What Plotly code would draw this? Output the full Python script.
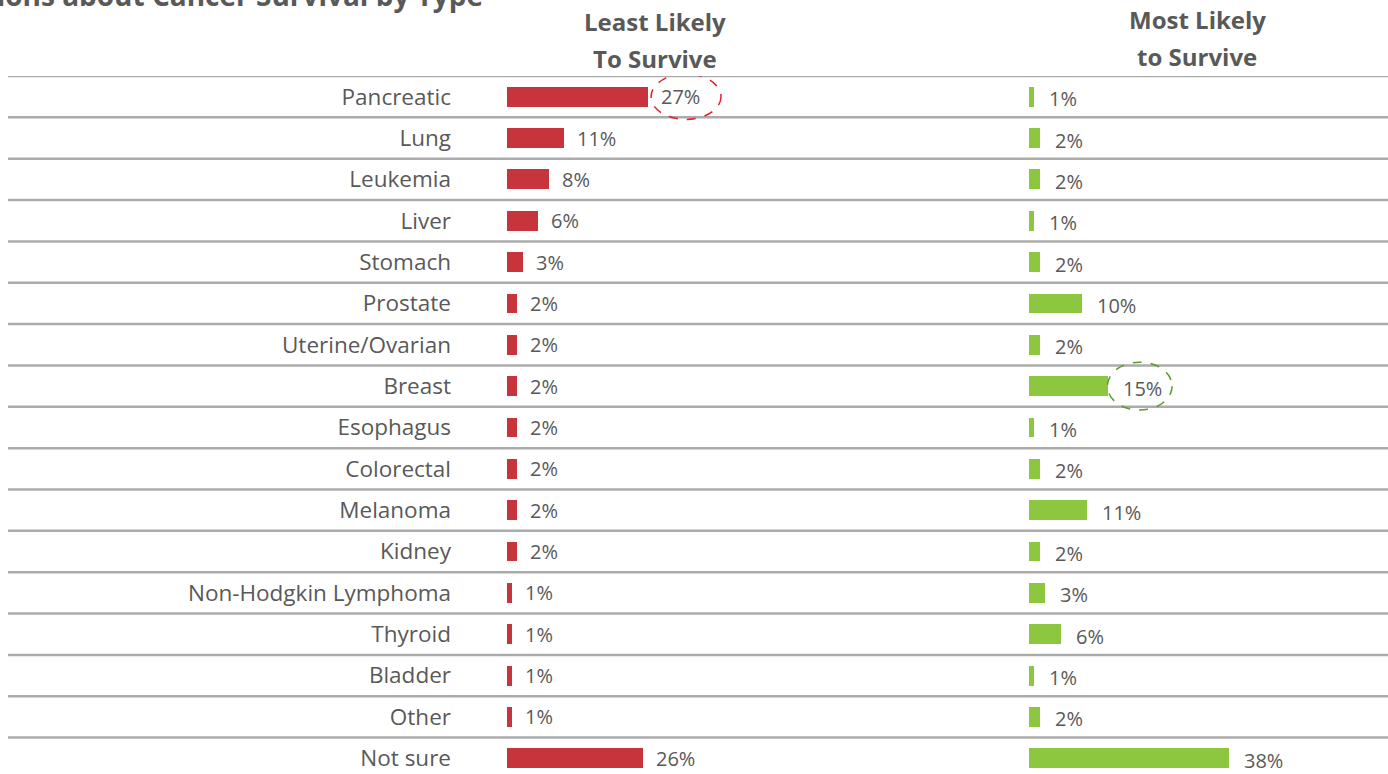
import plotly.graph_objects as go

categories = ["Pancreatic", "Lung", "Leukemia", "Liver", "Stomach", "Prostate",
              "Uterine/Ovarian", "Breast", "Esophagus", "Colorectal", "Melanoma",
              "Kidney", "Non-Hodgkin Lymphoma", "Thyroid", "Bladder", "Other", "Not sure"]
least_likely = [27, 11, 8, 6, 3, 2, 2, 2, 2, 2, 2, 2, 1, 1, 1, 1, 26]
most_likely = [1, 2, 2, 1, 2, 10, 2, 15, 1, 2, 11, 2, 3, 6, 1, 2, 38]
title_text = "Perceptions about Cancer Survival by Type"
highlight_left = "Pancreatic"
highlight_right = "Breast"

RED = "#C8343C"
GREEN = "#8DC63F"
GRAY = "#595959"
LINE = "#ABABAB"
FONT = "Open Sans"

W, H = 1388, 774
TOP = 76
ROW = 41.35
plot_h = H - TOP
n = len(categories)
y_bottom = -0.5 + plot_h / ROW

fig = go.Figure()
fig.add_trace(go.Bar(x=least_likely, y=categories, orientation="h",
                     marker=dict(color=RED, line=dict(width=0)), width=0.48,
                     xaxis="x", yaxis="y", hoverinfo="skip"))
fig.add_trace(go.Bar(x=most_likely, y=categories, orientation="h",
                     marker=dict(color=GREEN, line=dict(width=0)), width=0.48,
                     xaxis="x2", yaxis="y", hoverinfo="skip"))

left_px_per = 5.22
right_px_per = 5.26
ld0, ld1 = 507 / W, 1000 / W
rd0, rd1 = 1029 / W, 1.0

annotations = []
for c, v in zip(categories, least_likely):
    annotations.append(dict(x=v, y=c, xref="x", yref="y", text=f"{v}%", showarrow=False,
                            xanchor="left", yanchor="middle", xshift=11,
                            font=dict(family=FONT, size=20, color=GRAY)))
for c, v in zip(categories, most_likely):
    annotations.append(dict(x=v, y=c, xref="x2", yref="y", text=f"{v}%", showarrow=False,
                            xanchor="left", yanchor="middle", xshift=13, yshift=-2,
                            font=dict(family=FONT, size=20, color=GRAY)))

def py(px):
    return 1 + (TOP - px) / plot_h

for txt, xc, yc in [("Least Likely", 655, 22), ("To Survive", 655, 58),
                    ("Most Likely", 1197, 20), ("to Survive", 1197, 56)]:
    annotations.append(dict(x=xc / W, y=py(yc), xref="paper", yref="paper", text=f"<b>{txt}</b>",
                            showarrow=False, xanchor="center", yanchor="middle",
                            font=dict(family=FONT, size=24, color=GRAY)))
annotations.append(dict(x=485 / W, y=py(-5), xref="paper", yref="paper", text=f"<b>{title_text}</b>",
                        showarrow=False, xanchor="right", yanchor="middle",
                        font=dict(family=FONT, size=28, color=GRAY)))

shapes = []
for i in range(n):
    yy = i - 0.5
    shapes.append(dict(type="line", xref="paper", yref="y", x0=8 / W, x1=1, y0=yy, y1=yy,
                       line=dict(color=LINE, width=2.5), layer="below"))

li = categories.index(highlight_left)
lv = least_likely[li]
shapes.append(dict(type="circle", xref="x", yref="y", x0=lv + 0.6, x1=lv + 14,
                   y0=li - 0.55, y1=li + 0.55,
                   line=dict(color="#E0202A", width=1.5, dash="dash")))
ri = categories.index(highlight_right)
rv = most_likely[ri]
shapes.append(dict(type="circle", xref="x2", yref="y", x0=rv - 0.1, x1=rv + 12.2,
                   y0=ri - 0.58, y1=ri + 0.58,
                   line=dict(color="#5E9A2E", width=1.5, dash="dash")))

fig.update_layout(
    width=W, height=H,
    margin=dict(l=0, r=0, t=TOP, b=0),
    paper_bgcolor="white", plot_bgcolor="white",
    showlegend=False,
    bargap=0,
    xaxis=dict(domain=[ld0, ld1], range=[0, (ld1 - ld0) * W / left_px_per],
               visible=False, fixedrange=True),
    xaxis2=dict(domain=[rd0, rd1], range=[0, (rd1 - rd0) * W / right_px_per],
                visible=False, fixedrange=True, anchor="y"),
    yaxis=dict(categoryorder="array", categoryarray=categories,
               range=[y_bottom, -0.5], showgrid=False, zeroline=False, showline=False,
               ticks="", ticklabelstandoff=55,
               tickfont=dict(family=FONT, size=22.5, color=GRAY), fixedrange=True),
    annotations=annotations,
    shapes=shapes,
)

fig.write_html("out.html", config={"displayModeBar": False},
               post_script="document.body.style.margin='0';document.body.style.overflow='hidden';")
